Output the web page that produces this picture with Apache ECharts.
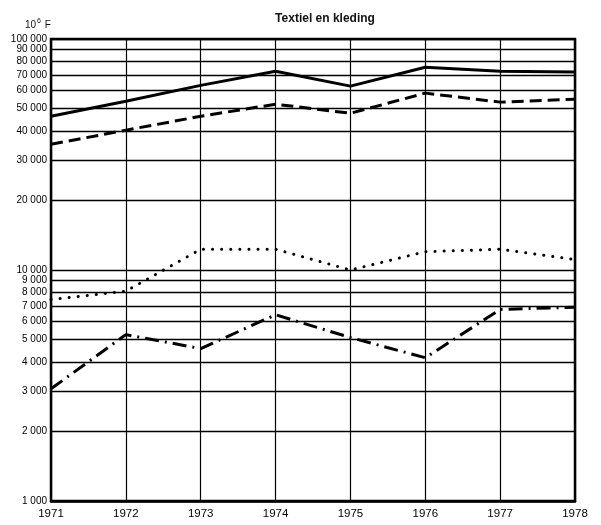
<!DOCTYPE html>
<html>
<head>
<meta charset="utf-8">
<script src="https://cdn.jsdelivr.net/npm/echarts@6/dist/echarts.min.js"></script>
<style>html,body{margin:0;padding:0;background:#fff}#c{width:601px;height:525px}</style>
</head>
<body>
<div id="c"></div>
<script>
const years = [1971, 1972, 1973, 1974, 1975, 1976, 1977, 1978];
const seriesSolid = [46300, 53800, 63000, 72500, 62500, 75500, 72500, 72000];
const seriesDashed = [35000, 40300, 46300, 52200, 47700, 58300, 53300, 54900];
const seriesDotted = [7450, 8100, 12300, 12300, 10000, 12000, 12300, 11100];
const seriesDashDot = [3060, 5250, 4570, 6400, 5100, 4170, 6750, 6900];
const yTicks = [1000, 2000, 3000, 4000, 5000, 6000, 7000, 8000, 9000, 10000,
  20000, 30000, 40000, 50000, 60000, 70000, 80000, 90000, 100000];
const titleText = 'Textiel en kleding';
const unitBase = '10';
const unitExp = '6';
const unitTail = ' F';

const FONT = 'Liberation Sans, Arial, sans-serif';
function fmt(v) { return String(Math.round(v)).replace(/\B(?=(\d{3})+(?!\d))/g, ' '); }
function pairs(vals) { return years.map((y, i) => [y, vals[i]]); }

const chart = echarts.init(document.getElementById('c'));
const base = { type: 'line', symbol: 'none', silent: true, z: 5 };
chart.setOption({
  animation: false,
  backgroundColor: '#fff',
  title: [
    { text: titleText, left: 320, textAlign: 'center', top: 8,
      textStyle: { fontFamily: FONT, fontSize: 12, fontWeight: 'bold', color: '#111' } },
    { text: '{b|' + unitBase + '}{s|' + unitExp + '}{b|' + unitTail + '}', left: 20, top: 13,
      textStyle: { fontWeight: 'normal', rich: {
        b: { fontFamily: FONT, fontSize: 10, fontWeight: 'normal', color: '#111', verticalAlign: 'bottom' },
        s: { fontFamily: FONT, fontSize: 7, fontWeight: 'normal', color: '#111', verticalAlign: 'top', padding: [0, 1, 5, 1] }
      } } }
  ],
  grid: { left: 51, right: 26, top: 39, bottom: 24, show: true, borderColor: '#000', borderWidth: 2.5, backgroundColor: 'transparent' },
  xAxis: {
    type: 'value', min: 1971, max: 1978, interval: 1,
    axisLine: { show: true, lineStyle: { color: '#000', width: 2.5 } },
    axisTick: { show: false },
    splitLine: { show: true, lineStyle: { color: '#000', width: 1.2 } },
    axisLabel: { fontFamily: FONT, fontSize: 11.5, color: '#000', margin: 7,
      formatter: v => String(v) }
  },
  yAxis: {
    type: 'log', logBase: 10, min: 1000, max: 100000,
    axisLine: { show: true, lineStyle: { color: '#000', width: 2 } },
    axisTick: { show: false, customValues: yTicks },
    splitLine: { show: true, lineStyle: { color: '#000', width: 1.3 } },
    axisLabel: { customValues: yTicks, fontFamily: FONT, fontSize: 10, color: '#000', margin: 4,
      formatter: v => fmt(v) }
  },
  series: [
    Object.assign({}, base, { data: pairs(seriesSolid), lineStyle: { color: '#000', width: 3 } }),
    Object.assign({}, base, { data: pairs(seriesDashed), lineStyle: { color: '#000', width: 3, type: [12, 6] } }),
    Object.assign({}, base, { data: pairs(seriesDotted), lineStyle: { color: '#000', width: 3, type: [0.1, 9], cap: 'round' } }),
    Object.assign({}, base, { data: pairs(seriesDashDot), lineStyle: { color: '#000', width: 3, type: [14, 6, 2, 6] } })
  ]
});
</script>
</body>
</html>
